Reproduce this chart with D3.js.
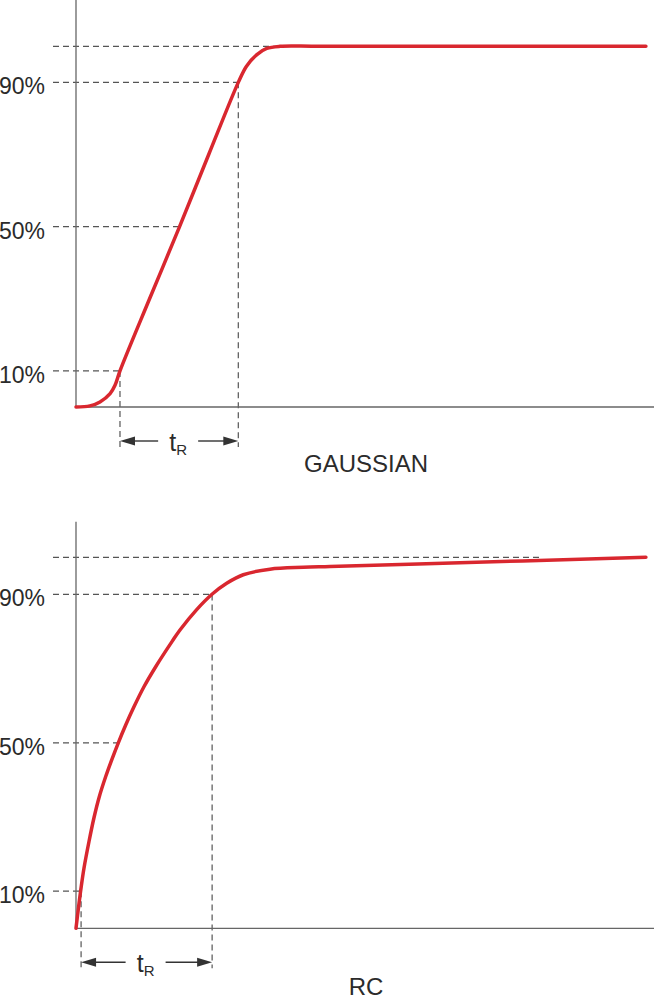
<!DOCTYPE html>
<html>
<head>
<meta charset="utf-8">
<script src="https://cdn.jsdelivr.net/npm/d3@7"></script>
<style>
    body { margin: 0; background: #fff; }
    text { font-family: "Liberation Sans", Arial, sans-serif; fill: #2b2b2b; }
</style>
</head>
<body>
<div id="chart"></div>
<script>
// step responses, time in arbitrary units, value in % of final level
var gaussTime  = [0, 2.4, 4.15, 5.9, 6.75, 7.61, 12.73, 17.92, 22.96, 28.08, 29.5, 31.3, 33.0, 35.3, 42.2, 98.6];
var gaussValue = [0, 0.3, 1.4, 3.7, 6.0, 10, 30, 50, 70, 90, 94.5, 97.7, 99.4, 100, 100, 100];

var rcTime  = [0, 0.52, 0.92, 1.38, 2.25, 3.11, 3.98, 5.14, 6.28, 7.32, 8.6, 10.03, 11.76, 13.79, 16.66, 17.99, 20.88, 23.58, 26.07, 28.94, 33.56, 39.33, 43.94, 59.17, 98.6];
var rcValue = [0, 6.7, 11.4, 16.2, 23.4, 29.8, 35.2, 40.9, 45.8, 50, 54.8, 59.7, 65.1, 70.5, 77.4, 80.4, 85.9, 90.1, 93.0, 95.3, 96.8, 97.3, 97.5, 98.2, 100];

var levels = [10, 50, 90];
var levelLabels = ["10%", "50%", "90%"];

// time where each curve crosses 10 / 50 / 90 %
var gaussCross = [7.61, 17.92, 28.08];
var rcCross = [0.88, 7.32, 23.55];

// where the 100% reference line stops
var gaussRefEnd = 35.3;
var rcRefEnd = 80.6;

var titles = ["GAUSSIAN", "RC"];

var width = 654, height = 1000;

var svg = d3.select("#chart").append("svg")
    .attr("width", width)
    .attr("height", height);

var x = d3.scaleLinear().domain([0, 100]).range([76, 654]);

var panels = [
    {time: gaussTime, value: gaussValue, cross: gaussCross, refEnd: gaussRefEnd, title: titles[0],
     y0: 407, y100: 46.3, axisTop: 0, titleY: 471.5},
    {time: rcTime, value: rcValue, cross: rcCross, refEnd: rcRefEnd, title: titles[1],
     y0: 928.3, y100: 557.3, axisTop: 521.7, titleY: 995}
];

var dashColor = "#555";
var axisColor = "#666";

panels.forEach(function(p){
    var y = d3.scaleLinear().domain([0, 100]).range([p.y0, p.y100]);
    var g = svg.append("g");
    var left = x(0) - 23;

    // 100% reference
    g.append("line")
        .attr("x1", left).attr("x2", x(p.refEnd))
        .attr("y1", y(100)).attr("y2", y(100))
        .attr("stroke", dashColor)
        .attr("stroke-width", 1.2)
        .attr("stroke-dasharray", "6,4");

    levels.forEach(function(lv, i){
        g.append("line")
            .attr("x1", left).attr("x2", x(p.cross[i]))
            .attr("y1", y(lv)).attr("y2", y(lv))
            .attr("stroke", dashColor)
            .attr("stroke-width", 1.2)
            .attr("stroke-dasharray", "6,4");

        g.append("text")
            .attr("x", 45)
            .attr("y", y(lv) + 12)
            .attr("text-anchor", "end")
            .style("font-size", "23px")
            .text(levelLabels[i]);
    });

    // verticals at 10% and 90%
    [0, 2].forEach(function(i){
        g.append("line")
            .attr("x1", x(p.cross[i])).attr("x2", x(p.cross[i]))
            .attr("y1", y(levels[i])).attr("y2", p.y0 + 40)
            .attr("stroke", dashColor)
            .attr("stroke-width", 1.2)
            .attr("stroke-dasharray", "6,4");
    });

    // axes
    g.append("line")
        .attr("x1", x(0)).attr("x2", x(0))
        .attr("y1", p.axisTop).attr("y2", p.y0)
        .attr("stroke", axisColor)
        .attr("stroke-width", 1.3);
    g.append("line")
        .attr("x1", x(0)).attr("x2", x(100))
        .attr("y1", p.y0).attr("y2", p.y0)
        .attr("stroke", axisColor)
        .attr("stroke-width", 1.3);

    // rise time arrow
    var ay = p.y0 + 34;
    var xa = x(p.cross[0]), xb = x(p.cross[2]);
    var mid = (xa + xb) / 2 - 1;
    g.append("line")
        .attr("x1", xa + 12).attr("x2", mid - 20)
        .attr("y1", ay).attr("y2", ay)
        .attr("stroke", "#333").attr("stroke-width", 1.4);
    g.append("line")
        .attr("x1", mid + 20).attr("x2", xb - 12)
        .attr("y1", ay).attr("y2", ay)
        .attr("stroke", "#333").attr("stroke-width", 1.4);
    g.append("path")
        .attr("d", "M" + xa + "," + ay + "L" + (xa + 15) + "," + (ay - 4.5) + "L" + (xa + 15) + "," + (ay + 4.5) + "Z")
        .attr("fill", "#333");
    g.append("path")
        .attr("d", "M" + xb + "," + ay + "L" + (xb - 15) + "," + (ay - 4.5) + "L" + (xb - 15) + "," + (ay + 4.5) + "Z")
        .attr("fill", "#333");

    var tr = g.append("text")
        .attr("x", mid)
        .attr("y", ay + 10)
        .attr("text-anchor", "middle")
        .style("font-size", "25px");
    tr.append("tspan").text("t");
    tr.append("tspan").attr("dy", 3.5).style("font-size", "15px").text("R");

    g.append("text")
        .attr("x", 366)
        .attr("y", p.titleY)
        .attr("text-anchor", "middle")
        .style("font-size", "24px")
        .text(p.title);

    // response curve
    var pts = p.time.map(function(t, i){ return [t, p.value[i]]; });
    var line = d3.line()
        .x(function(d){ return x(d[0]); })
        .y(function(d){ return y(d[1]); })
        .curve(d3.curveCatmullRom.alpha(0.5));

    g.append("path")
        .datum(pts)
        .attr("d", line)
        .attr("fill", "none")
        .attr("stroke", "#d9272f")
        .attr("stroke-width", 3.5)
        .attr("stroke-linejoin", "round")
        .attr("stroke-linecap", "round");
});
</script>
</body>
</html>
